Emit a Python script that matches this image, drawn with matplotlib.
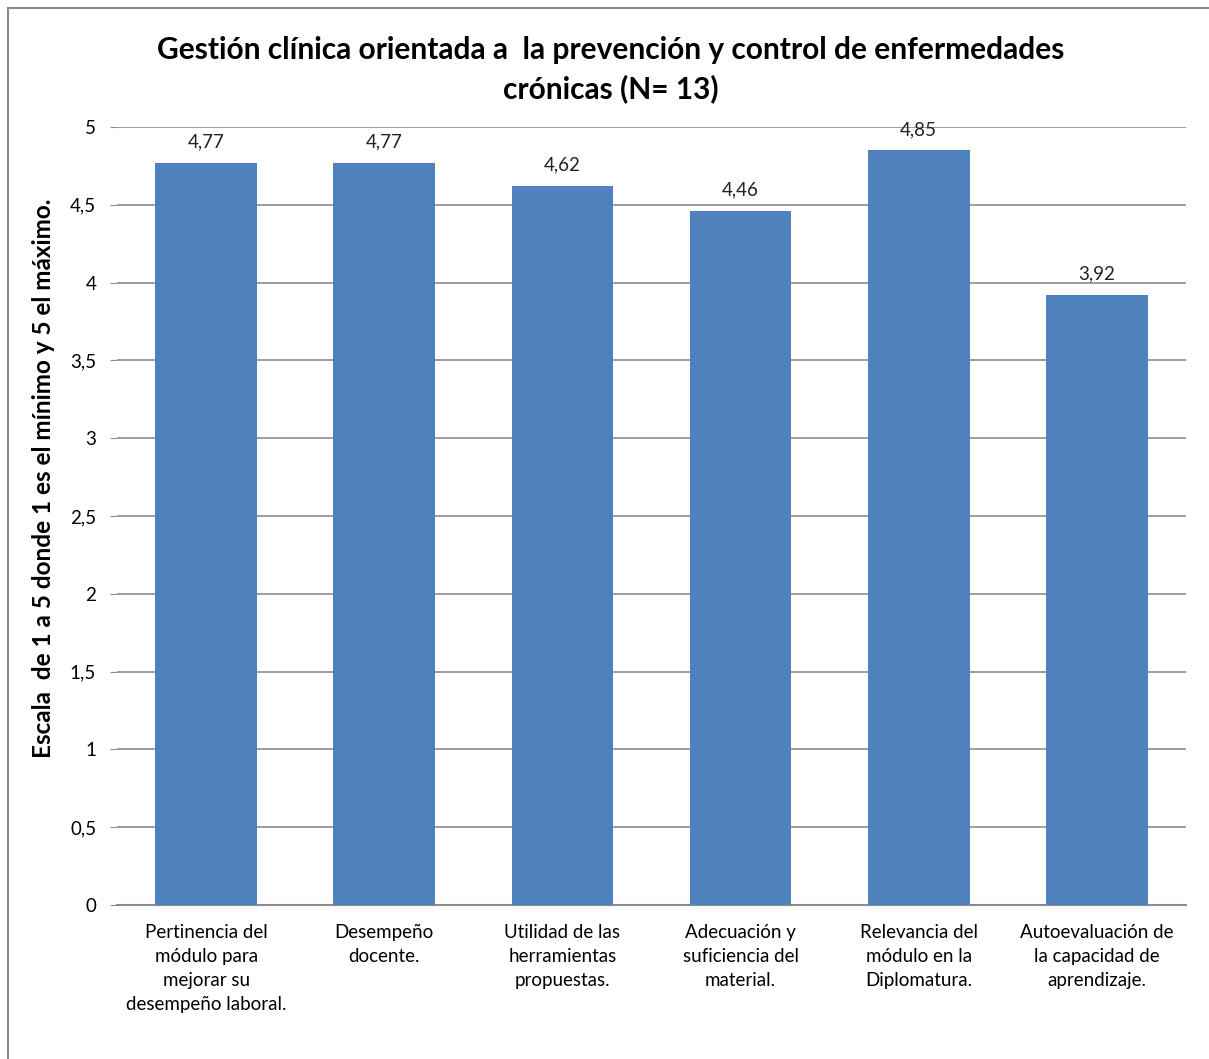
import matplotlib
matplotlib.use("Agg")
import matplotlib.pyplot as plt
from matplotlib.patches import Rectangle

categories = [
    "Pertinencia del\nmódulo para\nmejorar su\ndesempeño laboral.",
    "Desempeño\ndocente.",
    "Utilidad de las\nherramientas\npropuestas.",
    "Adecuación y\nsuficiencia del\nmaterial.",
    "Relevancia del\nmódulo en la\nDiplomatura.",
    "Autoevaluación de\nla capacidad de\naprendizaje.",
]
values = [4.77, 4.77, 4.62, 4.46, 4.85, 3.92]
value_labels = ["4,77", "4,77", "4,62", "4,46", "4,85", "3,92"]
yticks = [0, 0.5, 1, 1.5, 2, 2.5, 3, 3.5, 4, 4.5, 5]
ytick_labels = ["0", "0,5", "1", "1,5", "2", "2,5", "3", "3,5", "4", "4,5", "5"]

plt.rcParams['font.family'] = ['Lato', 'DejaVu Sans']

fig = plt.figure(figsize=(12.09, 10.59), dpi=100)
fig.patches.append(Rectangle((8/1209, -0.01), 1.1, 1 - 8/1059 + 0.01, transform=fig.transFigure,
                             fill=False, edgecolor="#8c8c8c", linewidth=1.5))
ax = fig.add_axes([117/1209, 1 - 905/1059, (1186 - 117)/1209, (905 - 127)/1059])

x = list(range(len(categories)))
ax.bar(x, values, width=0.57, color="#4f81bd", zorder=3)
for xi, v, lab in zip(x, values, value_labels):
    ax.text(xi, v + 0.08, lab, ha="center", va="bottom", fontsize=13.5, color="#222222")

ax.set_xlim(-0.5, len(categories) - 0.5)
ax.set_ylim(0, 5)
ax.set_yticks(yticks)
ax.set_yticklabels(ytick_labels, fontsize=13.5)
ax.set_xticks(x)
ax.set_xticklabels(categories, fontsize=13.5, linespacing=1.5)
ax.tick_params(axis="x", length=0, pad=14)
ax.tick_params(axis="y", length=5, color="#8c8c8c", pad=10)
ax.yaxis.grid(True, color="#8c8c8c", linewidth=1.2, zorder=0)
for s in ["top", "right", "left"]:
    ax.spines[s].set_visible(False)
ax.spines["bottom"].set_color("#8c8c8c")
ax.spines["bottom"].set_linewidth(1.5)

ax.set_ylabel("Escala  de 1 a 5 donde 1 es el mínimo y 5 el máximo.", fontsize=17.5,
              fontweight="bold")
ax.yaxis.set_label_coords(-0.058, 0.549)
fig.text(0.505, 0.953, "Gestión clínica orientada a  la prevención y control de enfermedades",
         ha="center", va="center", fontsize=21.5, fontweight="bold")
fig.text(0.505, 0.916, "crónicas (N= 13)", ha="center", va="center", fontsize=21.5, fontweight="bold")

fig.savefig("out.png", dpi=100)
